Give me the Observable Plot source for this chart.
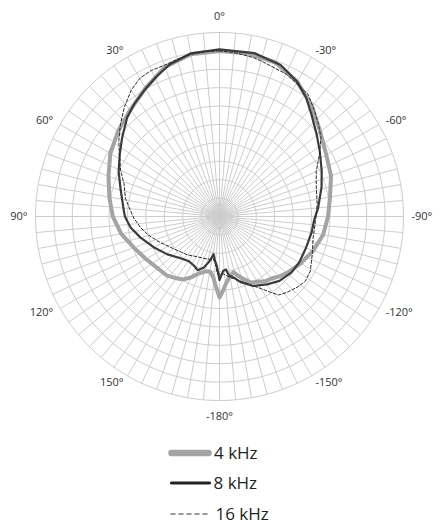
<!DOCTYPE html>
<html>
<head>
<meta charset="utf-8">
<script src="https://cdn.jsdelivr.net/npm/d3@7"></script>
<script src="https://cdn.jsdelivr.net/npm/@observablehq/plot@0.6"></script>
<style>
  body { margin: 0; background: #fff; font-family: "Open Sans", sans-serif; }
  #chart svg { display: block; }
  #legend { width: 443px; height: 99px; }
  #legend svg { display: block; }
</style>
</head>
<body>
<div id="chart"></div>
<div id="legend"></div>
<script>
// ---- Data (angle in degrees, positive = counter-clockwise / left; level in grid rings 0..10) ----
const angleTicks = [0, 30, 60, 90, 120, 150, 180, -150, -120, -90, -60, -30];
const tickLabels = ["0°", "30°", "60°", "90°", "120°", "150°", "-180°", "-150°", "-120°", "-90°", "-60°", "-30°"];
const ringLevels = [1, 2, 3, 4, 5, 6, 7, 8, 9, 10];
const spokeAngles = d3.range(0, 360, 5);

const seriesNames = ["4 kHz", "8 kHz", "16 kHz"];

const angles4k = [0, 10, 20, 30, 40, 50, 60, 70, 80, 90, 100, 110, 120, 130, 138, 145, 150, 155, 160, 165, 170, 174, 177, 180,
  -177, -174, -170, -166, -161, -155, -150, -145, -140, -135, -130, -120, -110, -100, -90, -80, -70, -60, -50, -40, -30, -20, -10];
const level4k = [9.0, 8.95, 8.65, 8.05, 7.55, 7.2, 6.85, 6.42, 6.08, 5.8, 5.42, 4.95, 4.62, 4.38, 4.3, 4.1, 3.95, 3.65, 3.3, 3.1, 3.03, 3.3, 3.8, 4.4,
  4.0, 3.6, 3.3, 3.12, 3.5, 3.95, 4.1, 4.3, 4.4, 4.6, 4.78, 5.1, 5.42, 5.72, 5.9, 6.1, 6.45, 6.7, 7.15, 7.82, 8.45, 8.9, 9.0];

const angles8k = [0, 10, 18, 24, 31, 37, 43, 51, 58, 66, 75, 86, 90, 97, 105, 115, 126, 137, 145, 152, 158, 163, 168, 171, 174, 177, 180,
  -176, -173, -171, -167, -162, -154, -145, -137, -128, -120, -110, -100, -92, -85, -74, -66, -57, -50, -42, -36, -30, -22, -12];
const level8k = [9.08, 9.0, 8.7, 8.36, 7.97, 7.68, 7.36, 6.81, 6.39, 6.0, 5.56, 5.22, 5.14, 4.87, 4.44, 3.95, 3.5, 3.1, 2.95, 3.0, 3.15, 2.9, 2.45, 2.07, 2.4, 2.7, 3.45,
  2.95, 2.9, 3.25, 3.4, 3.76, 4.2, 4.5, 4.78, 4.95, 5.0, 5.0, 5.08, 5.15, 5.38, 5.77, 6.08, 6.5, 6.9, 7.47, 8.0, 8.45, 8.88, 9.08];

const angles16k = [0, 5, 10, 15, 20, 25, 30, 35, 41, 47, 53, 58, 65, 71, 79, 84, 91, 98, 105, 114, 125, 140, 151, 164, 172, 175, 178,
  -176, -170, -162, -154, -150, -146, -143, -138, -132, -127, -121, -112, -103, -93, -83, -73, -65, -58, -52, -47, -42, -36, -32, -25, -15, -12, -5];
const level16k = [9.0, 9.0, 8.95, 8.85, 8.75, 8.76, 8.67, 8.37, 7.88, 7.36, 6.85, 6.42, 5.93, 5.49, 5.21, 4.95, 4.66, 4.33, 3.98, 3.5, 3.05, 2.72, 2.5, 2.41, 2.34, 2.6, 3.13,
  3.14, 3.37, 3.68, 4.2, 4.53, 4.97, 5.34, 5.53, 5.72, 5.84, 5.76, 5.44, 5.22, 5.22, 5.35, 5.5, 5.8, 6.41, 7.0, 7.35, 7.72, 8.2, 8.3, 8.55, 8.75, 8.83, 8.95];

// ---- polar -> cartesian helpers ----
const rad = (a) => a * Math.PI / 180;
const px = (a, r) => -r * Math.sin(rad(a));
const py = (a, r) => r * Math.cos(rad(a));
const toRows = (angles, levels, name) => angles.map((a, i) => ({series: name, x: px(a, levels[i]), y: py(a, levels[i])}));

const rows4k = toRows(angles4k, level4k, seriesNames[0]);
const rows8k = toRows(angles8k, level8k, seriesNames[1]);
const rows16k = toRows(angles16k, level16k, seriesNames[2]);

const outer = d3.max(ringLevels);
const circleRows = ringLevels.flatMap((r) => d3.range(0, 360, 2).map((a) => ({ring: r, x: px(a, r), y: py(a, r)})));

const labelRows = angleTicks.map((a, i) => ({angle: a, label: tickLabels[i]}));
const sideR = outer * 1.043, poleR = outer * 1.087;
const leftLabels = labelRows.filter((d) => d.angle > 0 && d.angle < 180);
const rightLabels = labelRows.filter((d) => d.angle < 0);
const poleLabels = labelRows.filter((d) => d.angle === 0 || d.angle === 180);

const gridColor = "#cdcdcd";

const chart = Plot.plot({
  width: 443,
  height: 432,
  marginLeft: 35,
  marginRight: 40,
  marginTop: 32,
  marginBottom: 32,
  x: {domain: [-outer, outer], axis: null},
  y: {domain: [-outer, outer], axis: null},
  style: {fontFamily: "'Open Sans', sans-serif", fontSize: "11px", color: "#333", background: "#fff"},
  marks: [
    Plot.link(spokeAngles, {
      x1: () => 0, y1: () => 0,
      x2: (a) => px(a, outer), y2: (a) => py(a, outer),
      stroke: gridColor, strokeWidth: 1
    }),
    Plot.line(circleRows, {x: "x", y: "y", z: "ring", curve: "linear-closed", stroke: gridColor, strokeWidth: 1}),
    Plot.line(rows4k, {x: "x", y: "y", curve: "linear-closed", stroke: "#a4a4a4", strokeWidth: 4, strokeLinejoin: "round"}),
    Plot.line(rows8k, {x: "x", y: "y", curve: "linear-closed", stroke: "#3c3c3c", strokeWidth: 2.2, strokeLinejoin: "round"}),
    Plot.line(rows16k, {x: "x", y: "y", curve: "linear-closed", stroke: "#2a2a2a", strokeWidth: 1, strokeDasharray: "3,2"}),
    Plot.text(leftLabels, {x: (d) => px(d.angle, sideR), y: (d) => py(d.angle, sideR), text: "label", textAnchor: "end", fill: "#333"}),
    Plot.text(rightLabels, {x: (d) => px(d.angle, sideR), y: (d) => py(d.angle, sideR), text: "label", textAnchor: "start", fill: "#333"}),
    Plot.text(poleLabels, {x: (d) => px(d.angle, poleR), y: (d) => py(d.angle, poleR), text: "label", textAnchor: "middle", fill: "#333"})
  ]
});
document.getElementById("chart").appendChild(chart);

// ---- legend ----
const legendItems = [
  {name: seriesNames[0], stroke: "#a4a4a4", width: 6.5, dash: null, cap: "round"},
  {name: seriesNames[1], stroke: "#222", width: 3.2, dash: null, cap: "round"},
  {name: seriesNames[2], stroke: "#333", width: 1, dash: "5,3", cap: "butt"}
];
const ns = "http://www.w3.org/2000/svg";
const lsvg = document.createElementNS(ns, "svg");
lsvg.setAttribute("width", 443);
lsvg.setAttribute("height", 99);
const rowY = [21, 51, 82];
const lineX = [[171.5, 208.5], [171.5, 209.5], [170.5, 210]];
const textX = [214, 213.5, 215.5];
legendItems.forEach((it, i) => {
  const l = document.createElementNS(ns, "line");
  l.setAttribute("x1", lineX[i][0]); l.setAttribute("x2", lineX[i][1]);
  l.setAttribute("y1", rowY[i]); l.setAttribute("y2", rowY[i]);
  l.setAttribute("stroke", it.stroke); l.setAttribute("stroke-width", it.width);
  l.setAttribute("stroke-linecap", it.cap);
  if (it.dash) l.setAttribute("stroke-dasharray", it.dash);
  lsvg.appendChild(l);
  const t = document.createElementNS(ns, "text");
  t.setAttribute("x", textX[i]); t.setAttribute("y", rowY[i] + 6.3);
  t.setAttribute("font-family", "'Open Sans', sans-serif");
  t.setAttribute("font-size", "17");
  t.setAttribute("fill", "#231f20");
  t.textContent = it.name;
  lsvg.appendChild(t);
});
document.getElementById("legend").appendChild(lsvg);
</script>
</body>
</html>
